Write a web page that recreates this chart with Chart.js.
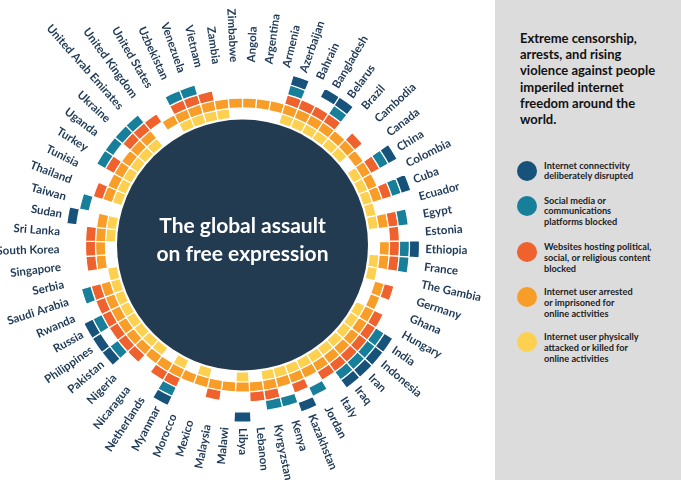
<!DOCTYPE html>
<html>
<head>
<meta charset="utf-8">
<script src="https://cdn.jsdelivr.net/npm/chart.js@4.4.1/dist/chart.umd.min.js"></script>
<style>
  html, body { margin: 0; padding: 0; background: #ffffff; }
  #wrap { position: relative; width: 681px; height: 480px; overflow: hidden; background: #ffffff; }
  #chart { position: absolute; left: 0; top: 0; }
  #centerTitle { position: absolute; left: 0; width: 485px; top: 211px; text-align: center;
    font-family: Lato, sans-serif; font-weight: 700; font-size: 21px; line-height: 28px; color: #ffffff; }
  #panel { position: absolute; left: 495px; top: 0; width: 186px; height: 480px; background: #dcdcdd; }
  #panelTitle { position: absolute; left: 25px; top: 30px; width: 160px;
    font-family: Lato, sans-serif; font-weight: 700; font-size: 13px; line-height: 16.2px; color: #111111; }
  .item { position: absolute; left: 22px; width: 160px; }
  .dot { position: absolute; left: 0; top: 0; width: 20px; height: 20px; border-radius: 50%; }
  .txt { position: absolute; left: 27px; top: 0; width: 140px;
    font-family: Lato, sans-serif; font-weight: 700; font-size: 9.2px; line-height: 10.8px; color: #222222; }
</style>
</head>
<body>
<div id="wrap">
  <canvas id="chart" width="495" height="480"></canvas>
  <div id="centerTitle">The global assault<br>on free expression</div>
  <div id="panel">
    <div id="panelTitle">Extreme censorship,<br>arrests, and rising<br>violence against people<br>imperiled internet<br>freedom around the<br>world.</div>
    <div id="legend"></div>
  </div>
</div>
<script>
// ---- data ----
const countries = ["Angola","Argentina","Armenia","Azerbaijan","Bahrain","Bangladesh","Belarus","Brazil","Cambodia","Canada",
  "China","Colombia","Cuba","Ecuador","Egypt","Estonia","Ethiopia","France","The Gambia","Germany",
  "Ghana","Hungary","India","Indonesia","Iran","Iraq","Italy","Jordan","Kazakhstan","Kenya",
  "Kyrgyzstan","Lebanon","Libya","Malawi","Malaysia","Mexico","Morocco","Myanmar","Netherlands","Nicaragua",
  "Nigeria","Pakistan","Philippines","Russia","Rwanda","Saudi Arabia","Serbia","Singapore","South Korea","Sri Lanka",
  "Sudan","Taiwan","Thailand","Tunisia","Turkey","Uganda","Ukraine","United Arab Emirates","United Kingdom","United States",
  "Uzbekistan","Venezuela","Vietnam","Zambia","Zimbabwe"];

// 1 = control observed in that country (same order as countries)
const connectivityDisrupted = [0,0,0,1,0,1,1,0,0,0, 1,0,1,0,0,0,1,0,0,0, 0,0,1,1,1,1,0,0,1,0, 0,0,1,0,0,0,0,1,0,0, 0,1,1,1,0,0,0,0,0,0, 1,0,0,0,0,0,0,0,0,0, 0,0,0,0,0];
const socialMediaBlocked    = [0,0,0,1,0,0,1,0,0,0, 1,0,1,0,1,0,1,1,0,0, 0,0,1,1,1,1,0,1,0,1, 1,0,0,0,0,0,0,1,0,0, 0,1,0,1,0,1,0,0,0,0, 0,1,0,0,1,1,1,1,0,0, 1,1,0,0,0];
const websitesBlocked       = [0,0,0,1,1,1,1,0,1,0, 1,0,1,0,1,1,1,1,0,1, 0,1,1,1,1,1,1,0,1,0, 1,1,0,0,1,0,0,1,1,0, 1,1,1,1,1,1,0,1,1,1, 0,0,1,0,1,0,1,1,1,0, 1,1,1,0,0];
const userArrested          = [1,1,1,1,1,1,1,1,1,1, 1,1,1,0,1,0,1,1,0,1, 1,1,1,1,1,1,1,1,1,1, 1,1,1,1,1,1,1,1,1,1, 1,1,1,1,1,1,0,1,1,1, 1,0,1,1,1,1,1,1,0,1, 1,1,1,1,1];
const userAttacked          = [0,0,0,1,1,1,1,1,1,0, 1,1,1,1,1,0,0,1,1,0, 0,1,1,1,1,1,1,1,1,1, 1,0,1,0,0,1,0,1,0,1, 1,1,1,1,1,1,1,0,0,1, 1,0,1,1,1,1,1,1,0,0, 1,1,1,1,0];

const categoryNames = [
  "Internet connectivity deliberately disrupted",
  "Social media or communications platforms blocked",
  "Websites hosting political, social, or religious content blocked",
  "Internet user arrested or imprisoned for online activities",
  "Internet user physically attacked or killed for online activities"
];
const legendLines = [
  ["Internet connectivity","deliberately disrupted"],
  ["Social media or","communications","platforms blocked"],
  ["Websites hosting political,","social, or religious content","blocked"],
  ["Internet user arrested","or imprisoned for","online activities"],
  ["Internet user physically","attacked or killed for","online activities"]
];
const categoryColors = ["#17527a", "#187f9b", "#ef612d", "#f89e28", "#fdd04f"];
const seriesFlags = [connectivityDisrupted, socialMediaBlocked, websitesBlocked, userArrested, userAttacked];
const sliceShare = countries.map(() => 1); // every country gets an equal wedge

// ---- legend (HTML) ----
const legendTops = [160.5, 195.5, 242, 287, 332];
const legendEl = document.getElementById('legend');
legendLines.forEach((lines, k) => {
  const it = document.createElement('div');
  it.className = 'item';
  it.style.top = legendTops[k] + 'px';
  it.innerHTML = '<div class="dot" style="background:' + categoryColors[k] + '"></div>' +
                 '<div class="txt">' + lines.join('<br>') + '</div>';
  legendEl.appendChild(it);
});

// ---- plugins ----
const centerDisc = {
  id: 'centerDisc',
  beforeDatasetsDraw(chart) {
    const meta = chart.getDatasetMeta(seriesFlags.length - 1);
    const a = meta.data[0];
    const ctx = chart.ctx;
    ctx.save();
    ctx.beginPath();
    ctx.arc(a.x, a.y, a.innerRadius - 1.5, 0, Math.PI * 2);
    ctx.fillStyle = '#223b51';
    ctx.fill();
    ctx.restore();
  }
};
const countryLabels = {
  id: 'countryLabels',
  afterDatasetsDraw(chart) {
    const meta = chart.getDatasetMeta(0);
    const ctx = chart.ctx;
    ctx.save();
    ctx.font = '700 11.5px Lato, sans-serif';
    ctx.fillStyle = '#1f3a56';
    ctx.textBaseline = 'middle';
    meta.data.forEach((arc, i) => {
      const mid = (arc.startAngle + arc.endAngle) / 2;
      const r = arc.outerRadius + 6;
      const x = arc.x + r * Math.cos(mid);
      const y = arc.y + r * Math.sin(mid);
      const fromTop = mid + Math.PI / 2;
      ctx.save();
      ctx.translate(x, y);
      if (fromTop <= Math.PI + 0.001) {
        ctx.rotate(mid);
        ctx.textAlign = 'left';
      } else {
        ctx.rotate(mid + Math.PI);
        ctx.textAlign = 'right';
      }
      ctx.fillText(countries[i], 0, 0);
      ctx.restore();
    });
    ctx.restore();
  }
};

// ---- chart ----
new Chart(document.getElementById('chart'), {
  type: 'doughnut',
  data: {
    labels: countries,
    datasets: seriesFlags.map((flags, k) => ({
      label: categoryNames[k],
      data: sliceShare,
      backgroundColor: flags.map(f => f ? categoryColors[k] : 'rgba(0,0,0,0)'),
      borderColor: '#ffffff',
      borderWidth: flags.map(f => f ? 1.2 : 0)
    }))
  },
  options: {
    responsive: false,
    animation: false,
    events: [],
    radius: 177,
    cutout: '71.75%',
    layout: { padding: { left: 65, top: 67.5, right: 75, bottom: 57.5 } },
    plugins: { legend: { display: false }, tooltip: { enabled: false }, title: { display: false } }
  },
  plugins: [centerDisc, countryLabels]
});
</script>
</body>
</html>
